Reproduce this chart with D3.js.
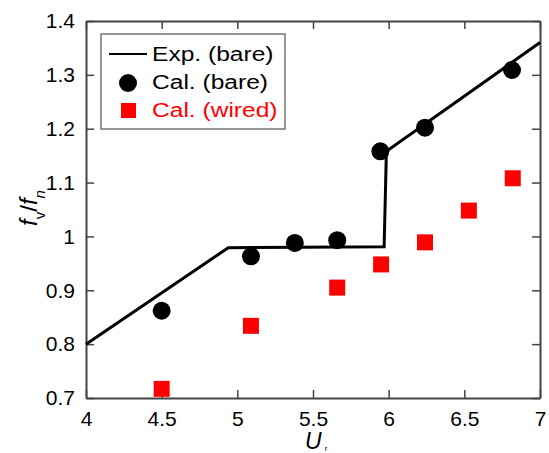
<!DOCTYPE html>
<html>
<head>
<meta charset="utf-8">
<script src="https://cdn.jsdelivr.net/npm/d3@7"></script>
<style>
  body { margin: 0; background: #fff; }
  svg { display: block; font-family: "Liberation Sans", Arial, sans-serif; }
</style>
</head>
<body>
<svg id="chart"></svg>
<script>
// data
const expX = [4, 4.94, 5.97, 5.985, 7];
const expY = [0.8, 0.979, 0.981, 1.158, 1.36];

const bareX = [4.5, 5.09, 5.38, 5.66, 5.945, 6.24, 6.815];
const bareY = [0.862, 0.963, 0.988, 0.993, 1.158, 1.202, 1.309];

const wiredX = [4.5, 5.09, 5.66, 5.95, 6.24, 6.53, 6.82];
const wiredY = [0.717, 0.834, 0.905, 0.948, 0.989, 1.048, 1.108];

const xTicks = [4, 4.5, 5, 5.5, 6, 6.5, 7];
const yTicks = [0.7, 0.8, 0.9, 1, 1.1, 1.2, 1.3, 1.4];

const W = 549, H = 453;
const margin = { top: 21, right: 9, bottom: 55, left: 86 };
const width = W - margin.left - margin.right;
const height = H - margin.top - margin.bottom;

const svg = d3.select("#chart")
    .attr("width", W)
    .attr("height", H);

const g = svg.append("g")
    .attr("transform", `translate(${margin.left},${margin.top})`);

const x = d3.scaleLinear().domain([4, 7]).range([0, width]);
const y = d3.scaleLinear().domain([0.7, 1.4]).range([height, 0]);

const fmt = d => String(d);
const frame = "#444";

// axes with inward ticks on all four sides
const axes = [
    { ax: d3.axisBottom(x).tickValues(xTicks).tickFormat(fmt), t: `translate(0,${height})`, cls: "xb" },
    { ax: d3.axisTop(x).tickValues(xTicks).tickFormat(""), t: "translate(0,0)" },
    { ax: d3.axisLeft(y).tickValues(yTicks).tickFormat(fmt), t: "translate(0,0)" },
    { ax: d3.axisRight(y).tickValues(yTicks).tickFormat(""), t: `translate(${width},0)` }
];
axes.forEach(a => {
    const ag = g.append("g")
        .attr("class", a.cls || "")
        .attr("transform", a.t)
        .call(a.ax.tickSizeInner(-8).tickSizeOuter(0).tickPadding(11));
    ag.select(".domain").attr("stroke", frame).attr("stroke-width", 2);
    ag.selectAll(".tick line").attr("stroke", frame).attr("stroke-width", 1.5);
    ag.selectAll(".tick text")
        .attr("font-size", 21)
        .attr("font-family", "Liberation Sans, Arial, sans-serif")
        .attr("fill", "#000");
});
g.select(".xb").selectAll(".tick text").attr("dy", "0.8em");

// experiment line
const expData = expX.map((d, i) => ({ x: d, y: expY[i] }));
g.append("path")
    .datum(expData)
    .attr("fill", "none")
    .attr("stroke", "#000")
    .attr("stroke-width", 3)
    .attr("d", d3.line().x(d => x(d.x)).y(d => y(d.y)));

// calculated, bare
g.selectAll(".bare")
    .data(bareX.map((d, i) => ({ x: d, y: bareY[i] })))
    .enter().append("circle")
    .attr("class", "bare")
    .attr("cx", d => x(d.x))
    .attr("cy", d => y(d.y))
    .attr("r", 9)
    .attr("fill", "#000");

// calculated, wired
const sq = 16;
g.selectAll(".wired")
    .data(wiredX.map((d, i) => ({ x: d, y: wiredY[i] })))
    .enter().append("rect")
    .attr("class", "wired")
    .attr("x", d => x(d.x) - sq / 2)
    .attr("y", d => y(d.y) - sq / 2)
    .attr("width", sq)
    .attr("height", sq)
    .attr("fill", "#ff0000");

// legend
const leg = svg.append("g").attr("transform", "translate(101,34)");
leg.append("rect")
    .attr("width", 184).attr("height", 95)
    .attr("fill", "#fff").attr("stroke", "#777").attr("stroke-width", 1.5);
leg.append("line")
    .attr("x1", 8).attr("x2", 46).attr("y1", 20).attr("y2", 20)
    .attr("stroke", "#000").attr("stroke-width", 2);
leg.append("circle").attr("cx", 27).attr("cy", 49).attr("r", 9).attr("fill", "#000");
leg.append("rect").attr("x", 20).attr("y", 69).attr("width", 15).attr("height", 15).attr("fill", "#ff0000");
const legText = [["Exp. (bare)", "#000"], ["Cal. (bare)", "#000"], ["Cal. (wired)", "#ff0000"]];
legText.forEach((t, i) => {
    leg.append("text")
        .attr("transform", `translate(51,${20 + i * 28}) scale(1.17,1)`)
        .attr("dy", "0.35em")
        .attr("font-size", 21)
        .attr("fill", t[1])
        .text(t[0]);
});

// axis titles
const xl = svg.append("text")
    .attr("x", 305).attr("y", 449)
    .attr("font-size", 23);
xl.append("tspan").attr("font-style", "italic").text("U");
xl.append("tspan").attr("font-size", 8).attr("dy", 2).attr("dx", 3).text("r");

const yl = svg.append("text")
    .attr("transform", "translate(37,208) rotate(-90)")
    .attr("text-anchor", "middle")
    .attr("font-size", 24);
yl.append("tspan").attr("font-style", "italic").text("f");
yl.append("tspan").attr("font-size", 15).attr("dy", 8).text("v");
yl.append("tspan").attr("dy", -8).text("/");
yl.append("tspan").attr("font-style", "italic").text("f");
yl.append("tspan").attr("font-style", "italic").attr("font-size", 15).attr("dy", 8).text("n");
</script>
</body>
</html>
